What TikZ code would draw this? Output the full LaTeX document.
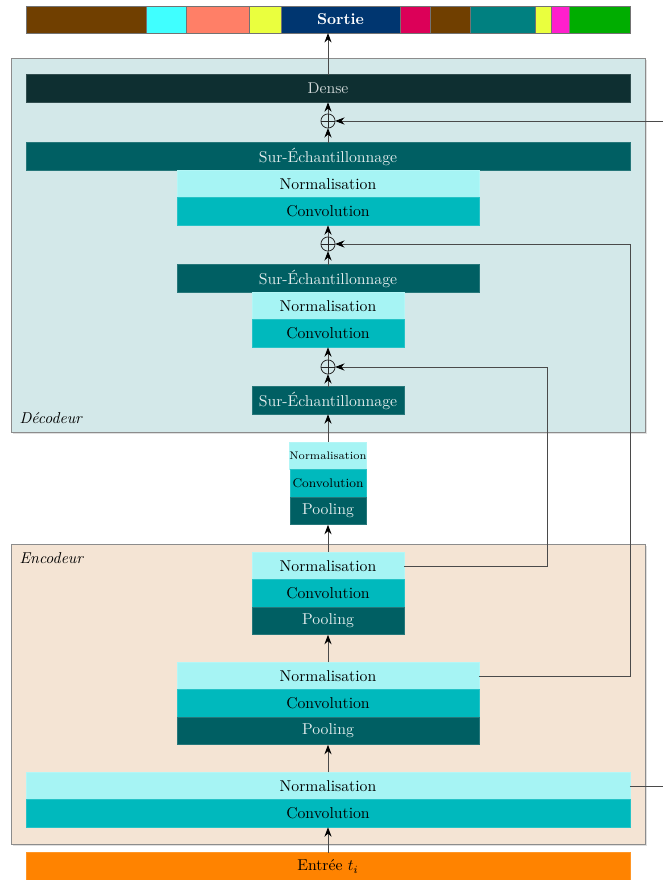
\documentclass[tikz,border=0pt]{standalone}
\usepackage{tikz}
\usetikzlibrary{positioning,arrows.meta,shadows}
\definecolor{cNorm}{HTML}{A6F4F4}
\definecolor{cConv}{HTML}{00B9BD}
\definecolor{cPool}{HTML}{005F63}
\definecolor{cDense}{HTML}{0E2F31}
\definecolor{cEntree}{HTML}{FF8300}
\definecolor{cFondDec}{HTML}{D3E8E9}
\definecolor{cFondEnc}{HTML}{F4E4D4}
\definecolor{cLigne}{HTML}{4A4A4A}
\definecolor{cClair}{HTML}{E2ECEC}
\definecolor{cGris}{HTML}{D0D8D8}
\definecolor{sBrun}{HTML}{703F00}
\definecolor{sCyan}{HTML}{40FFFF}
\definecolor{sSaumon}{HTML}{FF7F67}
\definecolor{sJaune}{HTML}{EAFF3E}
\definecolor{sMarine}{HTML}{003670}
\definecolor{sCramoisi}{HTML}{DC0058}
\definecolor{sSarcelle}{HTML}{008080}
\definecolor{sRose}{HTML}{FF1FCC}
\definecolor{sVert}{HTML}{00AD00}

\begin{document}
\begin{tikzpicture}[
      x=0.636pt,y=-0.636pt,
      node distance=0pt,
      couche/.style={rectangle,draw=#1!85!white,fill=#1,minimum height=17.5pt,
                     inner sep=0pt,outer sep=0pt,line width=0.4pt},
      norm/.style={couche=cNorm},
      conv/.style={couche=cConv},
      pool/.style={couche=cPool,text=cClair},
      large/.style={minimum width=384pt},
      moyen/.style={minimum width=192pt},
      petit/.style={minimum width=96.7pt},
      mini/.style={minimum width=48.3pt},
      segment/.style={draw=black!55,line width=0.4pt},
      somme/.style={circle,draw=black!85,minimum size=9pt,inner sep=0pt,outer sep=0pt,line width=0.5pt},
      fond/.style={draw=black!45,line width=0.6pt,
                   drop shadow={shadow xshift=1pt,shadow yshift=-1pt,opacity=0.25}},
      fleche/.style={-{Stealth[length=6pt,width=4.5pt,color=black]},draw=cLigne,line width=0.6pt}]
    \useasboundingbox (0,0) rectangle (663,880);
    \clip (0,0) rectangle (663,880);
    \foreach \xa/\xb/\coul in {26/146/sBrun,146/186/sCyan,186/249/sSaumon,249/281/sJaune,
        400/430/sCramoisi,430/470/sBrun,470/535/sSarcelle,535/551/sJaune,551/569/sRose,569/630/sVert}
      \draw[segment,fill=\coul] (\xa,6) rectangle (\xb,33);
    \node[couche=sMarine,segment,minimum width=75.7pt,minimum height=17.2pt,
          text=white,font=\bfseries] (sortie) at (340.5,19.5) {Sortie};

    \draw[fond,fill=cFondDec] (11,58) rectangle (645,432);
    \draw[fond,fill=cFondEnc] (11,544) rectangle (645,844);
    \node[anchor=west] (dec) at (14,418) {\textit{Décodeur}};
    \node[anchor=west] (enc) at (14,558) {\textit{Encodeur}};

    \node[couche=cDense,large,text=cGris] (dense) at (328,88.5) {Dense};
    \node[somme] (plus1) at (328,121) {};
    \node[pool,large] (surd1) at (328,156.5) {Sur-Échantillonnage};
    \node[norm,moyen,below=of surd1] (normd1) {Normalisation};
    \node[conv,moyen,below=of normd1] (convd1) {Convolution};
    \node[somme] (plus2) at (328,244) {};
    \node[pool,moyen] (surd2) at (328,278.5) {Sur-Échantillonnage};
    \node[norm,petit,below=of surd2] (normd2) {Normalisation};
    \node[conv,petit,below=of normd2] (convd2) {Convolution};
    \node[somme] (plus3) at (328,367) {};
    \node[pool,petit] (surd3) at (328,400.5) {Sur-Échantillonnage};

    \node[norm,mini,font=\scriptsize] (normm) at (328,456) {Normalisation};
    \node[conv,mini,font=\footnotesize,below=of normm] (convm) {Convolution};
    \node[pool,mini,below=of convm] (poolm) {Pooling};

    \node[norm,petit] (norme1) at (328,566) {Normalisation};
    \node[conv,petit,below=of norme1] (conve1) {Convolution};
    \node[pool,petit,below=of conve1] (poole1) {Pooling};
    \node[norm,moyen] (norme2) at (328,676) {Normalisation};
    \node[conv,moyen,below=of norme2] (conve2) {Convolution};
    \node[pool,moyen,below=of conve2] (poole2) {Pooling};
    \node[norm,large] (norme3) at (328,786) {Normalisation};
    \node[conv,large,below=of norme3] (conve3) {Convolution};
    \node[couche=cEntree,large] (entree) at (328,866.5) {Entrée $t_i$};

    \foreach \s in {plus1,plus2,plus3}
      \draw[black!85,line width=0.5pt] (\s.north) -- (\s.south) (\s.west) -- (\s.east);

    \coordinate (coin1) at (675,121);
    \coordinate (coin2) at (630,244);
    \coordinate (coin3) at (547,367);

    \draw[fleche] (entree) -- (conve3);
    \draw[fleche] (norme3) -- (poole2);
    \draw[fleche] (norme2) -- (poole1);
    \draw[fleche] (norme1) -- (poolm);
    \draw[fleche] (normm) -- (surd3);
    \draw[fleche] (surd3) -- (plus3);
    \draw[fleche] (plus3) -- (convd2);
    \draw[fleche] (surd2) -- (plus2);
    \draw[fleche] (plus2) -- (convd1);
    \draw[fleche] (surd1) -- (plus1);
    \draw[fleche] (plus1) -- (dense);
    \draw[fleche] (dense.north) -- (dense.north |- sortie.south);
    \draw[fleche] (norme1.east) -| (coin3) -- (plus3);
    \draw[fleche] (norme2.east) -| (coin2) -- (plus2);
    \draw[fleche] (norme3.east) -| (coin1) -- (plus1);
  \end{tikzpicture}
\end{document}
